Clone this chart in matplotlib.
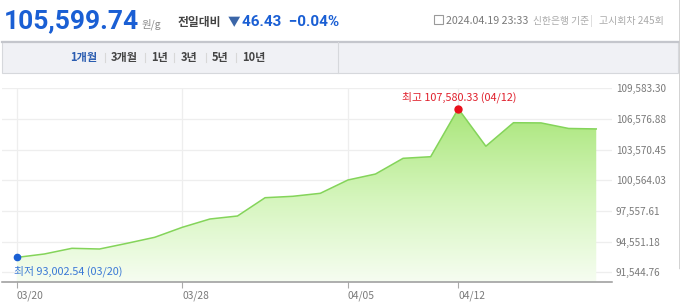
import matplotlib
matplotlib.use("Agg")
import matplotlib.pyplot as plt
from matplotlib.patches import Rectangle
from matplotlib.lines import Line2D
from matplotlib.colors import LinearSegmentedColormap
import numpy as np

plt.rcParams['font.family'] = ['Noto Sans CJK KR', 'DejaVu Sans']

# === data ===
dates = ["03/20", "03/21", "03/22", "03/25", "03/26", "03/27", "03/28", "03/29",
         "04/01", "04/02", "04/03", "04/04", "04/05", "04/08", "04/09", "04/11",
         "04/12", "04/15", "04/16", "04/17", "04/18", "04/19"]
prices = [93002.54, 93339, 93897, 93829, 94388, 94976, 95956, 96770,
          97064, 98858, 98995, 99289, 100593, 101180, 102720, 102877,
          107580.33, 103905, 106210, 106190, 105646.17, 105599.74]
xtick_dates = ["03/20", "03/28", "04/05", "04/12"]
ytick_values = [91544.76, 94551.18, 97557.61, 100564.03, 103570.45, 106576.88, 109583.30]
tabs = ["1개월", "3개월", "1년", "3년", "5년", "10년"]

W, H = 680, 305
fig = plt.figure(figsize=(W / 100, H / 100), dpi=100)


def fx(x):
    return x / W


def fy(y):
    return 1 - y / H


# === header ===
fig.text(fx(4), fy(28), "105,599.74", fontsize=19, fontweight="bold",
         color="#1a5fd4", va="baseline", ha="left", family=["Roboto", "DejaVu Sans"])
fig.text(fx(141), fy(27), "원/g", fontsize=7.5, color="#8a8a8a", va="baseline")
fig.text(fx(178), fy(26), "전일대비", fontsize=8.5, fontweight="bold", color="#444444", va="baseline")
fig.text(fx(228), fy(26), "▼", fontsize=9, color="#3b66a8", va="baseline")
fig.text(fx(242), fy(26.5), "46.43  −0.04%", fontsize=11, fontweight="bold",
         color="#1a5fd4", va="baseline", family=["Roboto", "DejaVu Sans"])

fig.add_artist(Rectangle((fx(434), fy(24)), 9 / W, 9 / H, transform=fig.transFigure,
                         facecolor="none", edgecolor="#9a9a9a", lw=0.8))
fig.text(fx(446), fy(24), "2024.04.19 23:33", fontsize=7.7, color="#7a7a7a", va="baseline")
fig.text(fx(533), fy(24), "신한은행 기준", fontsize=7, color="#aaaaaa", va="baseline")
fig.text(fx(590), fy(24), "|", fontsize=7, color="#cccccc", va="baseline")
fig.text(fx(599), fy(24), "고시회차 245회", fontsize=7.2, color="#aaaaaa", va="baseline")

# === tab bar ===
fig.add_artist(Rectangle((fx(2), fy(73)), 676 / W, 32 / H, transform=fig.transFigure,
                         facecolor="#f0f1f5", edgecolor="#d6d8dc", lw=0.8))
fig.add_artist(Line2D([fx(2), fx(678)], [fy(41.5), fy(41.5)], transform=fig.transFigure,
                      color="#c4c6cc", lw=1.6))
fig.add_artist(Line2D([fx(338), fx(338)], [fy(42), fy(73)], transform=fig.transFigure,
                      color="#d6d8dc", lw=0.8))
tab_x = [70, 111, 151, 181, 212, 242]
for i, (t, x) in enumerate(zip(tabs, tab_x)):
    fig.text(fx(x), fy(57.5), t, fontsize=8, fontweight="bold",
             color="#2a5cb0" if i == 0 else "#444444", va="center", ha="left")
    if i > 0:
        fig.add_artist(Line2D([fx(x - 6.5), fx(x - 6.5)], [fy(53), fy(62)],
                              transform=fig.transFigure, color="#d8d8d8", lw=0.8))

# === chart ===
ax = fig.add_axes([fx(2), fy(281.7), (611.7 - 2) / W, (281.7 - 88) / H])
x = np.arange(len(prices))
ymin, ymax = 90623, 109613
ax.set_xlim(-0.533, 21.56)
ax.set_ylim(ymin, ymax)

# gradient fill under the line
grad = LinearSegmentedColormap.from_list("g", ["#f6fdf1", "#d4f5bb", "#a9e67a"])
img = ax.imshow(np.linspace(0, 1, 256).reshape(-1, 1), cmap=grad, aspect="auto",
                extent=[x[0], x[-1], ymin, max(prices)], origin="lower", zorder=1)
poly = ax.fill_between(x, prices, ymin, color="none", lw=0)
img.set_clip_path(poly.get_paths()[0], transform=ax.transData)
ax.plot(x, prices, color="#84d45a", lw=1.1, zorder=3)

i_min = int(np.argmin(prices))
i_max = int(np.argmax(prices))
ax.plot(x[i_min], prices[i_min], "o", color="#1a5fd4", ms=4.5, zorder=4, clip_on=False)
ax.plot(x[i_max], prices[i_max], "o", color="#e8101c", ms=5, zorder=4, clip_on=False)
ax.annotate(f"최저 {prices[i_min]:,.2f} ({dates[i_min]})", (x[i_min], prices[i_min]),
            xytext=(-3, -14), textcoords="offset pixels", fontsize=7.8,
            color="#3a78d6", ha="left", va="center", zorder=5)
ax.annotate(f"최고 {prices[i_max]:,.2f} ({dates[i_max]})", (x[i_max], prices[i_max]),
            xytext=(1, 11), textcoords="offset pixels", fontsize=7.8,
            color="#e0202c", ha="center", va="center", zorder=5, annotation_clip=False)

ax.set_yticks(ytick_values)
ax.set_yticklabels([f"{v:,.2f}" for v in ytick_values])
ax.yaxis.tick_right()
ax.tick_params(axis="y", length=0, pad=3, labelsize=7.2, labelcolor="#7a7a7a")
xt = [dates.index(d) for d in xtick_dates]
ax.set_xticks(xt)
ax.set_xticklabels(xtick_dates, ha="left")
ax.tick_params(axis="x", length=4, width=0.8, color="#aaaaaa", pad=2,
               labelsize=7.4, labelcolor="#7a7a7a")
ax.grid(True, color="#eeeeee", lw=0.9, zorder=0)
ax.set_axisbelow(True)
for s in ["top", "left", "right"]:
    ax.spines[s].set_visible(False)
ax.spines["bottom"].set_color("#999999")
ax.spines["bottom"].set_linewidth(1.1)

# screenshot border on the right
fig.add_artist(Line2D([fx(679.5), fx(679.5)], [fy(0), fy(268)], transform=fig.transFigure,
                      color="#222222", lw=1))

fig.savefig("out.png", dpi=100)
